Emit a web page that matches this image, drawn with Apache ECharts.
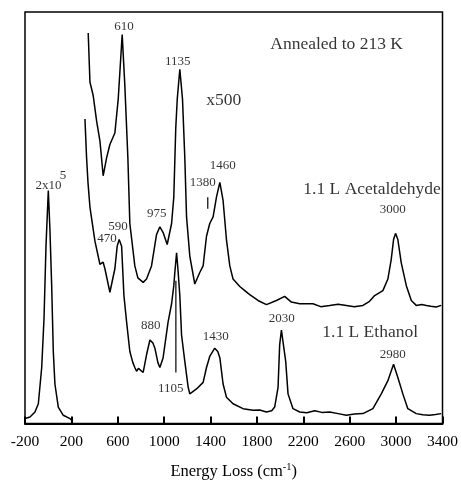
<!DOCTYPE html>
<html>
<head>
<meta charset="utf-8">
<script src="https://cdn.jsdelivr.net/npm/echarts@6/dist/echarts.min.js"></script>
<style>
  html, body { margin: 0; padding: 0; background: #fff; }
  #chart { width: 461px; height: 485px; }
</style>
</head>
<body>
<div id="chart"></div>
<script>
// energy loss (cm-1) and intensity (arbitrary units, 0-100)
const elasticE = [-200, -157, -114, -85, -56, -36, -19, 1, 15, 30, 44, 58, 87, 130, 188, 202]
const elasticI = [1.2, 1.6, 2.8, 4.8, 13.6, 25.5, 43.1, 56.6, 47.1, 33.5, 17.5, 9.6, 4.0, 2.0, 1.2, 0.8]

const acetE = [345, 360, 388, 418, 446, 474, 504, 532, 575, 604, 638, 661, 687, 704, 747, 773, 819, 848, 891, 934,
  963, 991, 1026, 1064, 1083, 1100, 1113, 1135, 1158, 1178, 1193, 1221, 1264, 1307, 1336, 1365, 1393, 1422, 1451, 1480,
  1508, 1537, 1566, 1594, 1652, 1695, 1738, 1809, 1882, 1968, 2039, 2097, 2169, 2283, 2350, 2427, 2500, 2571, 2640, 2714,
  2771, 2815, 2886, 2929, 2958, 2978, 2995, 3015, 3044, 3088, 3131, 3174, 3220, 3260, 3300, 3346, 3389]
const acetI = [94.9, 83.0, 79.7, 73.4, 68.7, 60.2, 64.6, 67.8, 70.6, 78.9, 94.5, 82.1, 64.6, 48.6, 38.3, 35.4, 34.3, 35.1, 38.3, 45.9,
  47.8, 46.4, 43.5, 48.6, 55.0, 71.8, 78.9, 86.1, 78.9, 64.6, 50.2, 40.7, 33.9, 36.7, 38.3, 45.5, 48.6, 50.2, 55.0, 58.6,
  54.2, 44.7, 38.3, 35.1, 33.3, 32.3, 31.3, 29.9, 28.9, 29.9, 30.9, 29.5, 29.1, 29.1, 28.4, 28.7, 29.0, 28.7, 28.4, 28.7,
  29.7, 31.1, 32.3, 35.1, 39.9, 44.7, 46.2, 44.7, 39.1, 33.5, 29.9, 28.7, 28.9, 28.7, 28.5, 28.3, 28.7]

const ethE = [317, 331, 343, 360, 403, 446, 474, 489, 532, 575, 595, 612, 633, 653, 676, 704, 730, 747, 762, 778,
  790, 819, 848, 877, 902, 920, 946, 963, 991, 1034, 1064, 1083, 1092, 1107, 1118, 1135, 1150, 1178, 1207, 1221,
  1279, 1336, 1365, 1393, 1436, 1462, 1480, 1508, 1537, 1594, 1680, 1766, 1824, 1882, 1927, 1953, 1982, 1996, 2011, 2025,
  2048, 2068, 2111, 2169, 2230, 2298, 2360, 2427, 2500, 2571, 2640, 2714, 2800, 2872, 2929, 2978, 3015, 3058, 3101, 3174,
  3230, 3288, 3340, 3389]
const ethI = [74.0, 64.6, 58.6, 52.6, 44.3, 38.7, 39.2, 37.6, 31.9, 37.6, 43.1, 44.7, 43.1, 31.1, 24.7, 17.5, 14.8, 13.6, 12.7, 13.4,
  13.2, 12.4, 16.7, 20.3, 19.6, 18.3, 14.8, 13.6, 16.0, 24.7, 29.1, 33.5, 36.7, 41.5, 37.8, 31.1, 21.5, 15.1, 8.8, 7.2,
  8.4, 10.0, 13.6, 16.3, 18.3, 17.5, 16.0, 9.6, 6.4, 4.8, 3.6, 3.2, 3.3, 2.8, 3.1, 4.0, 8.8, 19.1, 22.7, 23.1,
  15.1, 7.2, 3.6, 2.8, 2.6, 3.1, 2.7, 2.8, 2.4, 2.0, 2.3, 2.4, 3.6, 7.2, 10.4, 14.4, 11.2, 7.2, 3.6, 2.4,
  2.1, 2.0, 2.2, 2.4]

// short vertical markers under the 1380 shoulder and the 1105 peak
const markers = [
  [[1376, 55.0], [1376, 52.2]],
  [[1101, 34.7], [1101, 12.4]]
]

// peak labels: text, energy, intensity (label centre)
const peakText = ['610', '1135', '1460', '1380', '3000', '2x10', '5', '975', '590', '470', '880', '1105', '1430', '2030', '2980']
const peakE = [653, 1118, 1505, 1333, 2970, 2, 127, 937, 601, 506, 885, 1057, 1445, 2014, 2970]
const peakI = [96.4, 88.0, 62.7, 58.6, 51.9, 57.9, 60.3, 51.0, 47.8, 45.0, 23.7, 8.6, 21.1, 25.4, 16.7]

// bigger captions
const noteText = ['Annealed to 213 K', 'x500', '1.1 L Acetaldehyde', '1.1 L Ethanol']
const noteE = [2487, 1514, 2793, 2776]
const noteI = [92.1, 78.5, 56.9, 22.2]

const xTicks = [-200, 200, 600, 1000, 1400, 1800, 2200, 2600, 3000, 3400]

const font = 'Liberation Serif, Times New Roman, serif'
const zip = (a, b) => a.map((v, i) => [v, b[i]])

const chart = echarts.init(document.getElementById('chart'))

const lineSeries = (data) => ({
  type: 'line',
  data: data,
  showSymbol: false,
  symbol: 'none',
  smooth: false,
  lineStyle: { color: '#000', width: 1.5 },
  z: 3
})

const option = {
  animation: false,
  backgroundColor: '#fff',
  grid: {
    left: 25,
    right: 18,
    top: 12,
    bottom: 55,
    show: true,
    borderColor: '#000',
    borderWidth: 1.5
  },
  xAxis: {
    type: 'value',
    min: -200,
    max: 3400,
    name: 'Energy Loss (cm{s|-1})',
    nameLocation: 'middle',
    nameGap: 38,
    nameTextStyle: {
      color: '#000',
      fontFamily: font,
      fontSize: 16.5,
      rich: {
        s: { fontSize: 10.5, fontFamily: font, color: '#000', padding: [0, 0, 9, 0] }
      }
    },
    splitLine: { show: false },
    axisLine: { show: true, onZero: false, lineStyle: { color: '#000', width: 2 } },
    axisTick: {
      show: true,
      inside: true,
      length: 7,
      customValues: xTicks,
      lineStyle: { color: '#000', width: 2 }
    },
    axisLabel: {
      customValues: xTicks,
      formatter: v => String(v),
      color: '#000',
      fontFamily: font,
      fontSize: 15.5,
      margin: 10
    }
  },
  yAxis: {
    type: 'value',
    min: 0,
    max: 100,
    show: false,
    splitLine: { show: false }
  },
  series: [
    lineSeries(zip(elasticE, elasticI)),
    lineSeries(zip(acetE, acetI)),
    lineSeries(zip(ethE, ethI)),
    ...markers.map(m => ({
      type: 'line',
      data: m,
      symbol: 'none',
      lineStyle: { color: '#000', width: 1.2 }
    })),
    {
      type: 'scatter',
      symbolSize: 0,
      data: peakText.map((t, i) => [peakE[i], peakI[i], t]),
      label: {
        show: true,
        position: 'inside',
        formatter: p => p.data[2],
        color: '#000',
        fontFamily: font,
        fontSize: 13
      },
      z: 5
    },
    {
      type: 'scatter',
      symbolSize: 0,
      data: noteText.map((t, i) => [noteE[i], noteI[i], t]),
      label: {
        show: true,
        position: 'inside',
        formatter: p => p.data[2],
        color: '#000',
        fontFamily: font,
        fontSize: 17.5
      },
      z: 5
    }
  ]
}

chart.setOption(option)
window.addEventListener('resize', () => chart.resize())
</script>
</body>
</html>
